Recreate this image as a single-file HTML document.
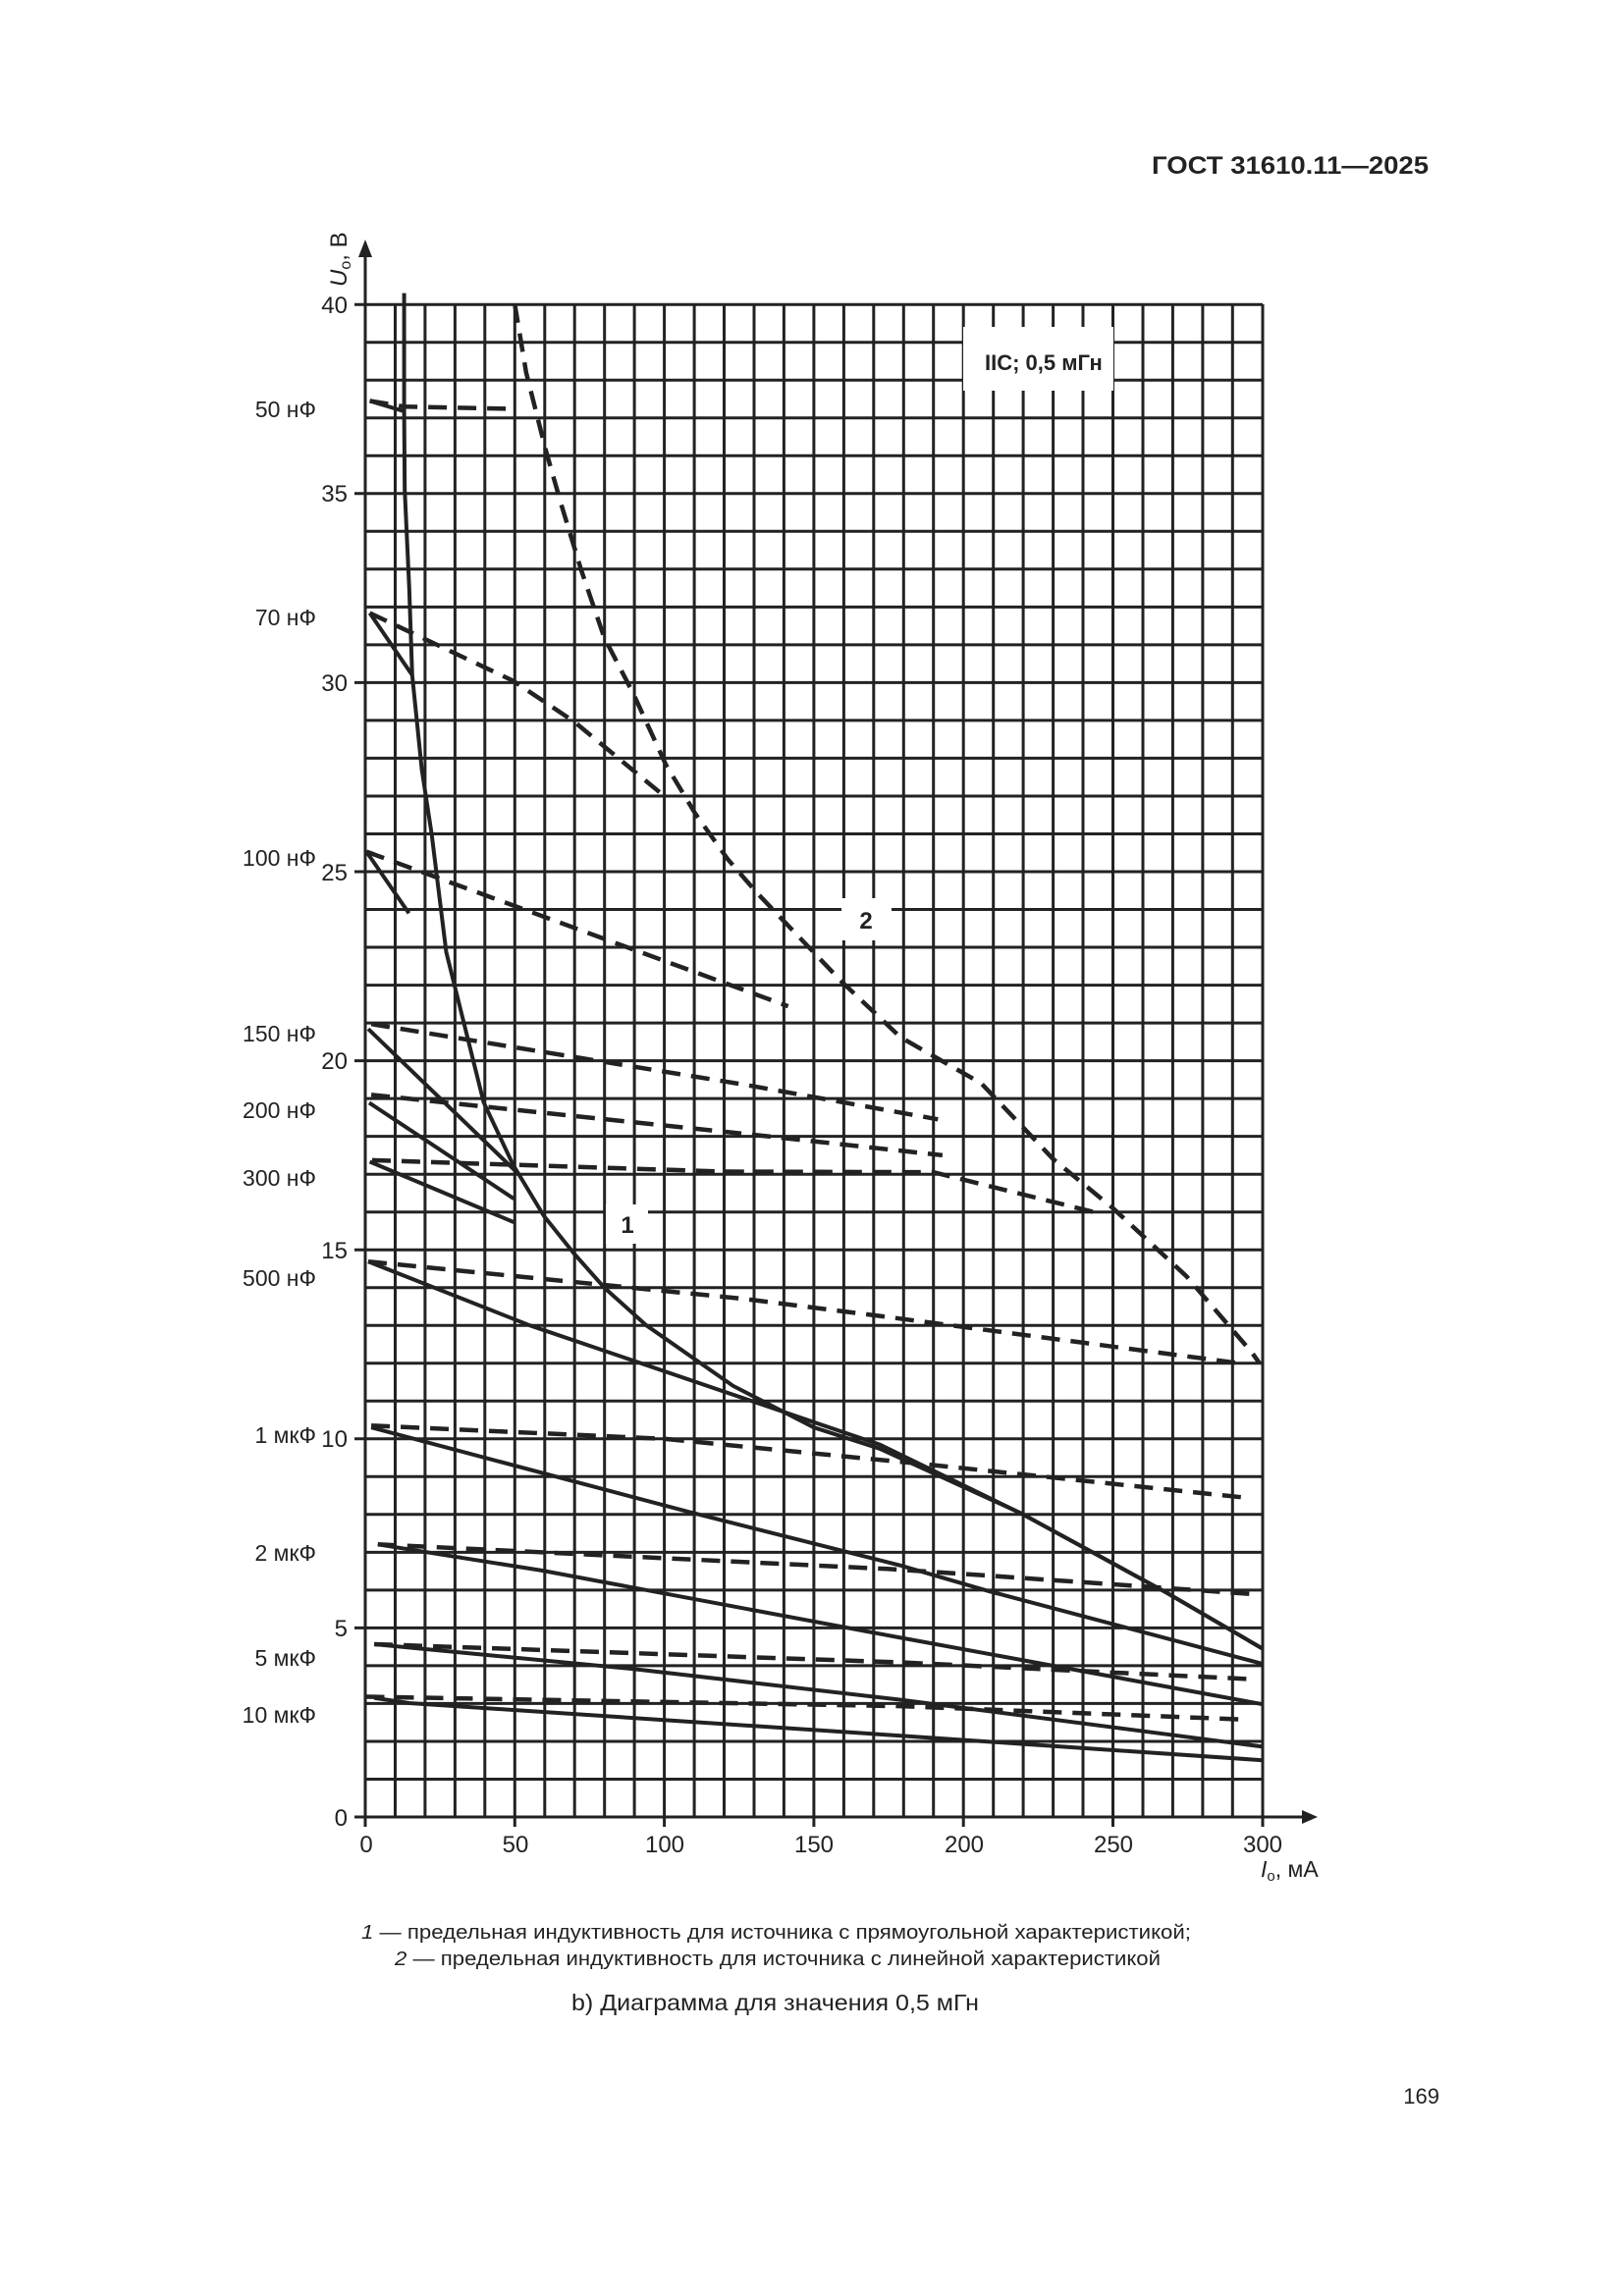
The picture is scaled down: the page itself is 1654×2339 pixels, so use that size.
<!DOCTYPE html>
<html><head><meta charset="utf-8"><style>
html,body{margin:0;padding:0;background:#fff;}
svg{display:block;}
text{font-family:"Liberation Sans",Arial,sans-serif;fill:#222;}
</style></head><body>
<svg width="1654" height="2339" viewBox="0 0 1654 2339" xmlns="http://www.w3.org/2000/svg">
<rect width="1654" height="2339" fill="#fff"/>
<text x="1173" y="177" font-size="25" font-weight="bold" textLength="282" lengthAdjust="spacingAndGlyphs">ГОСТ 31610.11—2025</text>

<g stroke="#222" stroke-width="3" fill="none">
<path d="M372,310V1851M402.5,310V1851M432.9,310V1851M463.4,310V1851M493.8,310V1851M524.3,310V1861M554.8,310V1851M585.2,310V1851M615.7,310V1851M646.1,310V1851M676.6,310V1861M707.1,310V1851M737.5,310V1851M768,310V1851M798.4,310V1851M828.9,310V1861M859.4,310V1851M889.8,310V1851M920.3,310V1851M950.7,310V1851M981.2,310V1861M1011.7,310V1851M1042.1,310V1851M1072.6,310V1851M1103,310V1851M1133.5,310V1861M1164,310V1851M1194.4,310V1851M1224.9,310V1851M1255.3,310V1851M1286,310V1861"/>
<path d="M372,1812.5H1286M372,1774H1286M372,1735.4H1286M372,1696.9H1286M361,1658.4H1286M372,1619.9H1286M372,1581.4H1286M372,1542.8H1286M372,1504.3H1286M361,1465.8H1286M372,1427.3H1286M372,1388.8H1286M372,1350.2H1286M372,1311.7H1286M361,1273.2H1286M372,1234.7H1286M372,1196.2H1286M372,1157.6H1286M372,1119.1H1286M361,1080.6H1286M372,1042.1H1286M372,1003.6H1286M372,965H1286M372,926.5H1286M361,888H1286M372,849.5H1286M372,811H1286M372,772.4H1286M372,733.9H1286M361,695.4H1286M372,656.9H1286M372,618.4H1286M372,579.8H1286M372,541.3H1286M361,502.8H1286M372,464.3H1286M372,425.8H1286M372,387.2H1286M372,348.7H1286M361,310.2H1286"/>
<path d="M372,310V255" /><path d="M361,1851H1330"/><path d="M372,1851V1861"/>
</g>
<polygon points="372,244 365,262 379,262" fill="#222"/>
<polygon points="1342,1851 1326,1844 1326,1858" fill="#222"/>

<rect x="981" y="333" width="153" height="65" fill="#fff"/>
<text x="1003" y="377" font-size="22" font-weight="bold">IIC; 0,5 мГн</text>
<rect x="617" y="1227" width="43" height="40" fill="#fff"/>
<text x="639" y="1256" font-size="24" font-weight="bold" text-anchor="middle">1</text>
<rect x="857" y="915" width="51" height="43" fill="#fff"/>
<text x="882" y="946" font-size="24" font-weight="bold" text-anchor="middle">2</text>

<g stroke="#222" stroke-width="4" fill="none" stroke-linejoin="round" stroke-linecap="butt">
<polyline points="411.6,298.6 411.6,418.1 412.2,498.9 416.8,599.1 419.8,687.7 429.6,784 439.6,849.5 454.5,970 492.6,1123 522.5,1186.5 553.8,1238.5 584.6,1277 615.4,1311.7 658.3,1350.2 746.7,1411.9 828.9,1454.2 895.9,1475.8 1039.1,1541.3 1188.3,1622.6 1286,1679.6"/>
<polyline points="375,1285.2 539.5,1350.2 895.9,1471.6 1039.1,1541.3 1188.3,1622.6 1286,1679.6"/>
<polyline points="378.1,1454.2 701,1540.1 917.2,1594.8 1005.6,1620.6 1286,1695"/>
<polyline points="384.8,1573.3 551.7,1599.9 917.2,1668.4 1286,1736.2"/>
<polyline points="381.1,1675 643.1,1700 917.2,1731.6 1286,1779.4"/>
<polyline points="381.1,1729.7 416.8,1735 917.2,1768.2 1286,1793.2"/>
<polyline points="376.6,1183.5 523.4,1245.1"/>
<polyline points="376,1123.4 523.4,1221.2"/>
<polyline points="375,1048.2 524.3,1192.3"/>
<polyline points="373.2,867.6 416.5,930.4"/>
<polyline points="376.6,624.5 419.8,687.7"/>
<polyline points="376.6,408.4 411.6,419"/>
</g>
<g stroke="#222" stroke-width="4.5" fill="none" stroke-dasharray="19,11" stroke-linejoin="round">
<polyline points="524.3,310 535.9,379.6 555.7,458.1 572.1,515.5 591.9,580.6 615.4,649.5 645.2,707 678.4,779.4 708.3,829.1 741.2,875.3 771,909.6 857.2,1000.1 917.2,1056.7 999.5,1103.7 1072.6,1180.8 1133.5,1230.8 1208.4,1300.2 1274.8,1377.6 1282.8,1388.8"/>
<polyline points="376.6,408.4 411.6,414.2 522.5,416.5"/>
<polyline points="376.6,624.5 522.5,693.5 585.2,735.5 673.3,808.3"/>
<polyline points="373.2,867.6 802.7,1025.1"/>
<polyline points="378.1,1043.2 757.9,1104.9 955.3,1140.3"/>
<polyline points="378.1,1115.3 757.9,1155 959.9,1176.9"/>
<polyline points="379,1181.9 734.5,1193.5 950.7,1194.2 1118.3,1235.8"/>
<polyline points="375,1285.2 758.8,1323.3 902,1341.4 1264,1389"/>
<polyline points="378.1,1452.3 676.6,1465.8 941.6,1491.6 1270.6,1525.9"/>
<polyline points="384.8,1573.3 903.5,1598.3 980,1603.3 1278.2,1624.1"/>
<polyline points="381.1,1675 917.2,1693.5 1270.6,1710.4"/>
<polyline points="372.5,1728.5 917.2,1738.1 1264.5,1751.6"/>
</g>

<g font-size="24" text-anchor="end">
<text x="354" y="319">40</text>
<text x="354" y="511">35</text>
<text x="354" y="704">30</text>
<text x="354" y="897">25</text>
<text x="354" y="1089">20</text>
<text x="354" y="1282">15</text>
<text x="354" y="1474">10</text>
<text x="354" y="1667">5</text>
<text x="354" y="1860">0</text>
</g>
<text transform="translate(353,292) rotate(-90)" font-size="24"><tspan font-style="italic">U</tspan><tspan font-size="16" dy="4">o</tspan><tspan dy="-4">, В</tspan></text>

<g font-size="23" text-anchor="end">
<text x="322" y="425">50 нФ</text>
<text x="322" y="637">70 нФ</text>
<text x="322" y="882">100 нФ</text>
<text x="322" y="1061">150 нФ</text>
<text x="322" y="1139">200 нФ</text>
<text x="322" y="1208">300 нФ</text>
<text x="322" y="1310">500 нФ</text>
<text x="322" y="1470">1 мкФ</text>
<text x="322" y="1590">2 мкФ</text>
<text x="322" y="1697">5 мкФ</text>
<text x="322" y="1755">10 мкФ</text>
</g>

<g font-size="24" text-anchor="middle">
<text x="373" y="1887">0</text>
<text x="525" y="1887">50</text>
<text x="677" y="1887">100</text>
<text x="829" y="1887">150</text>
<text x="982" y="1887">200</text>
<text x="1134" y="1887">250</text>
<text x="1286" y="1887">300</text>
</g>
<text x="1284" y="1912" font-size="23"><tspan font-style="italic">I</tspan><tspan font-size="15" dy="4">o</tspan><tspan dy="-4">, мА</tspan></text>

<text x="368" y="1975" font-size="20" textLength="845" lengthAdjust="spacingAndGlyphs"><tspan font-style="italic">1</tspan> — предельная индуктивность для источника с прямоугольной характеристикой;</text>
<text x="402" y="2002" font-size="20" textLength="780" lengthAdjust="spacingAndGlyphs"><tspan font-style="italic">2</tspan> — предельная индуктивность для источника с линейной характеристикой</text>
<text x="582" y="2048" font-size="23" textLength="415" lengthAdjust="spacingAndGlyphs">b) Диаграмма для значения 0,5 мГн</text>
<text x="1466" y="2143" font-size="22" text-anchor="end">169</text>
</svg>
</body></html>
